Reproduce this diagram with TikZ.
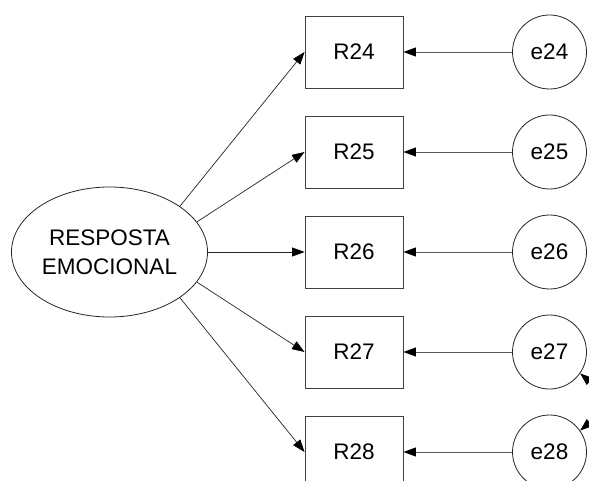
\documentclass[tikz,border=0pt]{standalone}
\usepackage{fontspec}
\setmainfont{Liberation Sans}
\usetikzlibrary{shapes.geometric,arrows.meta}
\begin{document}
\begin{tikzpicture}[x=1pt,y=-1pt,
  every node/.style={font=\fontsize{22.5}{29}\selectfont, text=black},
  latent/.style={ellipse,draw=black!85,line width=0.8pt,minimum width=196pt,minimum height=130pt,inner sep=0pt,align=center},
  obs/.style={rectangle,draw=black!75,line width=0.9pt,minimum width=98pt,minimum height=72pt,inner sep=0pt},
  err/.style={circle,draw=black!85,line width=0.8pt,minimum size=74pt,inner sep=0pt},
  path/.style={draw=black!85,line width=0.7pt,-{Triangle[length=12.5pt,width=9pt,color=black]}},
  epath/.style={draw=black!65,line width=0.9pt,-{Triangle[length=12.5pt,width=9pt,color=black]}},
  cov/.style={draw=black,line width=0.8pt,{Triangle[length=12.5pt,width=9pt]}-{Triangle[length=12.5pt,width=9pt]}}]
\useasboundingbox (0,0) rectangle (589,481);
\clip (0,0) rectangle (589,481);
\fill[white] (0,0) rectangle (589,481);
\node[latent] (L) at (109.5,252) {RESPOSTA\\EMOCIONAL};
\foreach \n/\y in {24/52,25/152,26/252,27/352,28/452}{
  \node[obs] (R\n) at (354,\y) {R\n};
  \node[err] (e\n) at (549.5,\y) {e\n};
  \draw[epath] (e\n) -- (R\n.east);
}
\draw[path] (L.33) -- (R24.west);
\draw[path] (L.19) -- (R25.west);
\draw[path] (L.0) -- (R26.west);
\draw[path] (L.-19) -- (R27.west);
\draw[path] (L.-33) -- (R28.west);
\draw[cov] (e27.-35) to[out=-40,in=40] (e28.35);
\end{tikzpicture}
\end{document}
